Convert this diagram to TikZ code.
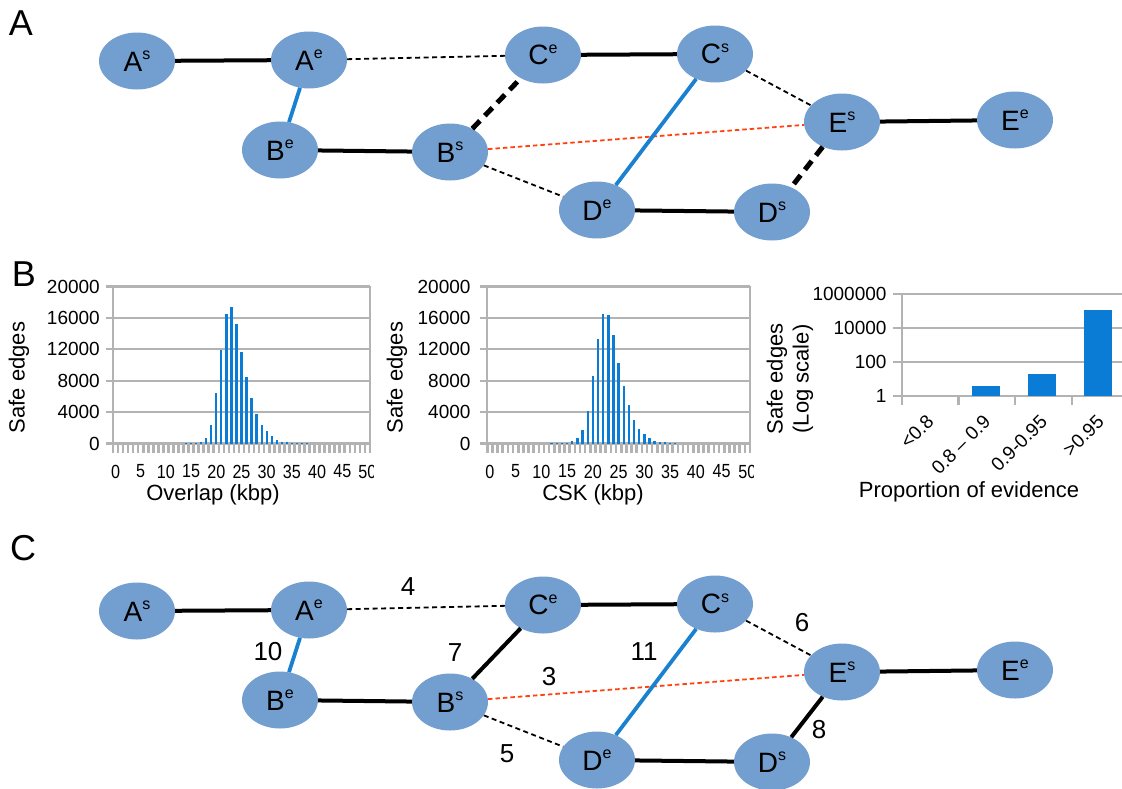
\documentclass[tikz,border=0pt]{standalone}
\usepackage{fontspec}
\setmainfont{Liberation Sans}
\usetikzlibrary{shapes.geometric}

\definecolor{nodefill}{HTML}{729FCF}
\definecolor{edgeblue}{HTML}{1A80D0}
\definecolor{edgered}{HTML}{FF420E}
\definecolor{barblue}{HTML}{0A7CD6}
\definecolor{gridgrey}{HTML}{B3B3B3}

% vertex label: capital letter with a small raised suffix
\newcommand{\vlab}[2]{#1\raisebox{11.6pt}{\fontsize{16}{16}\selectfont #2}}
% axis numbers: 22pt text scaled to 19pt
\newcommand{\tnum}[1]{{\fontsize{22}{22}\selectfont\scalebox{0.864}{#1}}}
% horizontal axis numbers, slightly condensed
\newcommand{\xnum}[1]{{\fontsize{22}{22}\selectfont\scalebox{0.734}[0.864]{#1}}}

% the ten vertices of the contig graph, shifted down by #2
\newcommand{\placenodes}[2]{%
  \begin{scope}[shift={(0,#2)}]
    \node[vtx] (#1As) at (137,61)  {\vlab{A}{s}};
    \node[vtx] (#1Ae) at (309,60)  {\vlab{A}{e}};
    \node[vtx] (#1Be) at (280,150) {\vlab{B}{e}};
    \node[vtx] (#1Bs) at (450,152) {\vlab{B}{s}};
    \node[vtx] (#1Ce) at (543,55)  {\vlab{C}{e}};
    \node[vtx] (#1Cs) at (715,54)  {\vlab{C}{s}};
    \node[vtx] (#1Es) at (842,122) {\vlab{E}{s}};
    \node[vtx] (#1Ee) at (1015,120){\vlab{E}{e}};
    \node[vtx] (#1De) at (597,210) {\vlab{D}{e}};
    \node[vtx] (#1Ds) at (772,212) {\vlab{D}{s}};
  \end{scope}}

\begin{document}
\begin{tikzpicture}[x=1pt,y=-1pt,
  vtx/.style={ellipse, fill=nodefill, minimum width=76pt, minimum height=57pt,
    inner sep=0pt, font=\fontsize{28}{30}\selectfont},
  solidedge/.style={line width=4pt, black},
  blueedge/.style={line width=3.8pt, edgeblue},
  thindash/.style={line width=1.8pt, black, dash pattern=on 5pt off 3.5pt},
  thickdash/.style={line width=5pt, black, dash pattern=on 11pt off 7pt},
  reddash/.style={line width=1.8pt, edgered, dash pattern=on 4.5pt off 3pt},
  panel/.style={inner sep=0pt, font=\fontsize{36}{36}\selectfont},
  elab/.style={inner sep=0pt, font=\fontsize{26}{26}\selectfont},
  ylab/.style={anchor=east, inner sep=0pt},
  xlab/.style={inner sep=0pt},
  atitle/.style={inner sep=0pt, font=\fontsize{22}{26}\selectfont},
  grid/.style={line width=2.2pt, gridgrey},
  tickmark/.style={line width=2.2pt, gridgrey},
  cattick/.style={line width=2.6pt, gridgrey},
]
\useasboundingbox (0,0) rectangle (1122,788);

% panel letters
\node[panel] (pA) at (21,23) {A};
\node[panel] (pB) at (24,274) {B};
\node[panel] (pC) at (23,548) {C};

% ---------------- panel A: graph with candidate edges ----------------
\placenodes{a}{0}
\draw[solidedge] (aAs) -- (aAe);
\draw[blueedge]  (aAe) -- (aBe);
\draw[thindash]  (aAe) -- (aCe);
\draw[solidedge] (aCe) -- (aCs);
\draw[solidedge] (aBe) -- (aBs);
\draw[thickdash] (aBs) -- (aCe);
\draw[reddash]   (aBs) -- (aEs);
\draw[thindash]  (aBs) -- (aDe);
\draw[blueedge]  (aCs) -- (aDe);
\draw[thindash]  (aCs) -- (aEs);
\draw[solidedge] (aEs) -- (aEe);
\draw[solidedge] (aDe) -- (aDs);
\draw[thickdash] (aEs) -- (aDs);

% ---------------- panel C: graph with edge order ----------------
\placenodes{c}{550}
\draw[solidedge] (cAs) -- (cAe);
\draw[blueedge]  (cAe) -- (cBe);
\draw[thindash]  (cAe) -- (cCe);
\draw[solidedge] (cCe) -- (cCs);
\draw[solidedge] (cBe) -- (cBs);
\draw[solidedge] (cBs) -- (cCe);
\draw[reddash]   (cBs) -- (cEs);
\draw[thindash]  (cBs) -- (cDe);
\draw[blueedge]  (cCs) -- (cDe);
\draw[thindash]  (cCs) -- (cEs);
\draw[solidedge] (cEs) -- (cEe);
\draw[solidedge] (cDe) -- (cDs);
\draw[solidedge] (cEs) -- (cDs);
\node[elab] (n4)  at (408,587) {4};
\node[elab] (n10) at (268,652) {10};
\node[elab] (n7)  at (455,653) {7};
\node[elab] (n3)  at (549,677) {3};
\node[elab] (n11) at (644,652) {11};
\node[elab] (n6)  at (802,623) {6};
\node[elab] (n5)  at (507,754) {5};
\node[elab] (n8)  at (819,730) {8};

% ---------------- panel B, chart 1: overlap histogram (counts in thousands) ----------------
\foreach \k/\lab in {0/0,1/4000,2/8000,3/12000,4/16000,5/20000}{
  \draw[grid] (113,{443.5-31.4*\k}) -- (370,{443.5-31.4*\k});
  \draw[tickmark] (106,{443.5-31.4*\k}) -- (113,{443.5-31.4*\k});
  \node[ylab] (oy\k) at (100,{443.5-31.4*\k}) {\tnum{\lab}};
}
\draw[grid] (113,286) -- (113,443.5);
\draw[grid] (370,286) -- (370,443.5);
\foreach \k in {0,...,51}
  \draw[cattick] ({113+5.039*\k},443.5) -- ++(0,9);
\foreach \i/\v in {14/0.02,15/0.04,16/0.1,17/0.2,18/0.76,19/2.4,20/6.44,21/11.86,
    22/16.48,23/17.37,24/15.17,25/11.61,26/8.47,27/5.8,28/3.81,29/2.33,
    30/1.61,31/0.97,32/0.5,33/0.25,34/0.13,35/0.06,36/0.04,37/0.02,38/0.015}
  \fill[barblue] ({113+5.039*(\i+0.5)-1.15},443.5) rectangle ++(2.3,{-\v*7.85});
\begin{scope}
  \clip (0,250) rectangle (373,520);
  \foreach \k in {0,5,...,50}
    \node[xlab] (ox\k) at ({113+5.039*(\k+0.5)},471.5) {\xnum{\k}};
\end{scope}
\node[atitle, anchor=base] (ot) at (213,500) {Overlap (kbp)};
\node[atitle, rotate=90] (oyt) at (19,377.5) {Safe edges};

% ---------------- panel B, chart 2: CSK histogram (counts in thousands) ----------------
\foreach \k/\lab in {0/0,1/4000,2/8000,3/12000,4/16000,5/20000}{
  \draw[grid] (487.3,{443.5-31.4*\k}) -- (750,{443.5-31.4*\k});
  \draw[tickmark] (480.3,{443.5-31.4*\k}) -- (487.3,{443.5-31.4*\k});
  \node[ylab] (cy\k) at (470.7,{443.5-31.4*\k}) {\tnum{\lab}};
}
\draw[grid] (487.3,286) -- (487.3,443.5);
\draw[grid] (750,286) -- (750,443.5);
\foreach \k in {0,...,51}
  \draw[cattick] ({487.3+5.15*\k},443.5) -- ++(0,9);
\foreach \i/\v in {12/0.02,13/0.03,14/0.05,15/0.1,16/0.3,17/0.72,18/1.77,19/4.18,
    20/8.61,21/13.29,22/16.54,23/16.33,24/13.88,25/10.21,26/7.34,27/4.94,
    28/2.95,29/1.9,30/1.22,31/0.675,32/0.38,33/0.2,34/0.15,35/0.08,36/0.03}
  \fill[barblue] ({487.3+5.15*(\i+0.5)-1.2},443.5) rectangle ++(2.4,{-\v*7.85});
\begin{scope}
  \clip (380,250) rectangle (753,520);
  \foreach \k in {0,5,...,50}
    \node[xlab] (cx\k) at ({487.3+5.15*(\k+0.5)},471.5) {\xnum{\k}};
\end{scope}
\node[atitle, anchor=base] (ct) at (593,500) {CSK (kbp)};
\node[atitle, rotate=90] (cyt) at (397,377.5) {Safe edges};

% ---------------- panel B, chart 3: evidence proportion, log scale ----------------
\foreach \k/\lab in {0/1,1/100,2/10000,3/1000000}{
  \draw[grid] (901.7,{396-34*\k}) -- (1122,{396-34*\k});
  \draw[tickmark] (893.3,{396-34*\k}) -- (901.7,{396-34*\k});
  \node[ylab] (ly\k) at (886.7,{396-34*\k}) {\tnum{\lab}};
}
\draw[grid] (901.7,294) -- (901.7,396);
\foreach \k in {0,...,3}
  \draw[tickmark] ({901.7+56.7*\k},396) -- ++(0,9);
\fill[barblue] (971.7,396) rectangle (1000,386);
\fill[barblue] (1027.7,396) rectangle (1056,374.3);
\fill[barblue] (1084.3,396) rectangle (1112.3,310);
\node[xlab, rotate=45, anchor=east] (lx0) at (930.4,418.5) {\tnum{<0.8}};
\node[xlab, rotate=45, anchor=east] (lx1) at (987.1,418.5) {\tnum{0.8 – 0.9}};
\node[xlab, rotate=45, anchor=east] (lx2) at (1043.8,418.5) {\tnum{0.9-0.95}};
\node[xlab, rotate=45, anchor=east] (lx3) at (1100.5,418.5) {\tnum{>0.95}};
\node[atitle, anchor=base] (lt) at (969,497) {Proportion of evidence};
\node[atitle, rotate=90, align=center] (lyt) at (790,379) {Safe edges\\(Log scale)};
\end{tikzpicture}
\end{document}
